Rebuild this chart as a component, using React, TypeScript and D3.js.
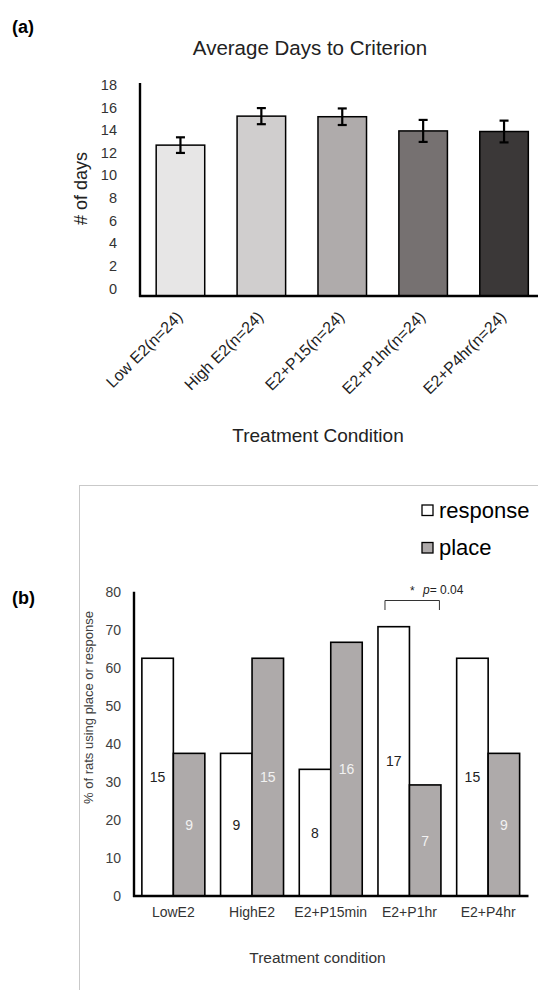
import React from "react";
import * as d3 from "d3";

// ---------- Panel (a) data ----------
const catsA = ["Low E2(n=24)", "High E2(n=24)", "E2+P15(n=24)", "E2+P1hr(n=24)", "E2+P4hr(n=24)"];
const daysMean = [12.75, 15.2, 15.15, 13.95, 13.9];
const daysErr = [0.66, 0.68, 0.7, 0.93, 0.92];
const barColorsA = ["#e7e6e6", "#d0cece", "#afabab", "#767171", "#3b3838"];
const ticksA = [0, 2, 4, 6, 8, 10, 12, 14, 16, 18];

// ---------- Panel (b) data ----------
const catsB = ["LowE2", "HighE2", "E2+P15min", "E2+P1hr", "E2+P4hr"];
const seriesB = ["response", "place"];
const responsePct = [62.5, 37.5, 33.3, 70.8, 62.5];
const placePct = [37.5, 62.5, 66.7, 29.2, 37.5];
const responseN = [15, 9, 8, 17, 15];
const placeN = [9, 15, 16, 7, 9];
const ticksB = [0, 10, 20, 30, 40, 50, 60, 70, 80];

const FONT = "'Liberation Sans', Arial, sans-serif";

export default function App() {
  // Panel (a) scales
  const xA = d3.scaleBand<string>().domain(catsA).range([140, 544.5]).paddingInner(0.4).paddingOuter(0.2);
  const yA = d3.scaleLinear().domain([0, 18]).range([296, 83]);
  const yALabel = d3.scaleLinear().domain([0, 18]).range([288.3, 84.7]);

  // Panel (b) scales
  const xB = d3.scaleBand<string>().domain(catsB).range([134, 527.5]).paddingInner(0.2).paddingOuter(0.1);
  const xSub = d3.scaleBand<string>().domain(seriesB).range([0, xB.bandwidth()]);
  const yB = d3.scaleLinear().domain([0, 80]).range([896, 591.7]);

  const rowsB = catsB.map((c, i) => ({
    cat: c,
    vals: [
      { s: "response", v: responsePct[i], n: responseN[i] },
      { s: "place", v: placePct[i], n: placeN[i] },
    ],
  }));

  const bw = xA.bandwidth();
  const capW = 4.5;
  const p1 = xB("E2+P1hr")!;
  const brL = p1 + xSub("response")! + 7;
  const brR = p1 + xSub("place")! + xSub.bandwidth() - 1.5;

  return (
    <svg
      width={538}
      height={990}
      style={{ position: "absolute", left: 0, top: 0, background: "#fff" }}
      fontFamily={FONT}
    >
      {/* ---------------- Panel (a) ---------------- */}
      <text x={12} y={33} fontSize={18} fontWeight="bold" fill="#000">(a)</text>
      <text x={310} y={55} fontSize={20.5} textAnchor="middle" fill="#222">Average Days to Criterion</text>

      {/* y tick labels */}
      {ticksA.map((t) => (
        <text key={t} x={117} y={yALabel(t)} dy="0.36em" fontSize={14.5} textAnchor="end" fill="#333">
          {t}
        </text>
      ))}
      <text
        transform={`translate(${87},${188.5}) rotate(-90)`}
        fontSize={18}
        textAnchor="middle"
        fill="#222"
      >
        # of days
      </text>

      {/* bars */}
      {catsA.map((c, i) => (
        <rect
          key={c}
          x={xA(c)}
          y={yA(daysMean[i])}
          width={bw}
          height={yA(0) - yA(daysMean[i])}
          fill={barColorsA[i]}
          stroke="#000"
          strokeWidth={1.5}
        />
      ))}
      {/* error bars */}
      {catsA.map((c, i) => {
        const cx = xA(c)! + bw / 2;
        const t = yA(daysMean[i] + daysErr[i]);
        const b = yA(daysMean[i] - daysErr[i]);
        return (
          <g key={c} stroke="#000" strokeWidth={2.2}>
            <line x1={cx} x2={cx} y1={t} y2={b} />
            <line x1={cx - capW} x2={cx + capW} y1={t} y2={t} />
            <line x1={cx - capW} x2={cx + capW} y1={b} y2={b} />
          </g>
        );
      })}
      {/* axes */}
      <line x1={140} x2={140} y1={83} y2={297} stroke="#000" strokeWidth={2.4} />
      <line x1={139} x2={538} y1={296} y2={296} stroke="#000" strokeWidth={2.4} />

      {/* x labels rotated */}
      {catsA.map((c) => {
        const ax = xA(c)! + bw / 2 + 3;
        const ay = 318;
        return (
          <text
            key={c}
            transform={`translate(${ax},${ay}) rotate(-45)`}
            fontSize={16}
            textAnchor="end"
            fill="#222"
          >
            {c}
          </text>
        );
      })}
      <text x={318} y={442} fontSize={19} textAnchor="middle" fill="#222">Treatment Condition</text>

      {/* ---------------- Panel (b) ---------------- */}
      <rect x={79.5} y={485.5} width={600} height={600} fill="none" stroke="#c9c9c9" strokeWidth={1} />
      <text x={12} y={604} fontSize={18} fontWeight="bold" fill="#000">(b)</text>

      {/* legend */}
      <rect x={422} y={505} width={11} height={10.5} fill="#fff" stroke="#000" strokeWidth={1.3} />
      <text x={439} y={517.5} fontSize={22} fill="#000">response</text>
      <rect x={422} y={542.5} width={11} height={10.5} fill="#aeaaaa" stroke="#000" strokeWidth={1.3} />
      <text x={439} y={554.5} fontSize={22} fill="#000">place</text>

      {/* significance bracket */}
      <path
        d={`M${brL},610 V600.5 H${brR} V610`}
        fill="none"
        stroke="#333"
        strokeWidth={1}
      />
      <text x={410} y={595} fontSize={12} fill="#222">*</text>
      <text x={423} y={593.5} fontSize={12} fill="#222">
        <tspan fontStyle="italic">p</tspan>= 0.04
      </text>

      {/* y ticks */}
      {ticksB.map((t) => (
        <text key={t} x={121} y={yB(t)} dy="0.36em" fontSize={14} textAnchor="end" fill="#404040">
          {t}
        </text>
      ))}
      <text
        transform={`translate(${93},${707.5}) rotate(-90)`}
        fontSize={13}
        textAnchor="middle"
        fill="#404040"
      >
        % of rats using place or response
      </text>

      {/* bars */}
      {rowsB.map((r) => (
        <g key={r.cat} transform={`translate(${xB(r.cat)},0)`}>
          {r.vals.map((d) => (
            <g key={d.s}>
              <rect
                x={xSub(d.s)}
                y={yB(d.v)}
                width={xSub.bandwidth()}
                height={yB(0) - yB(d.v)}
                fill={d.s === "response" ? "#fff" : "#aeaaaa"}
                stroke="#000"
                strokeWidth={1.6}
              />
              <text
                x={xSub(d.s)! + xSub.bandwidth() / 2}
                y={(yB(d.v) + yB(0)) / 2}
                dy="0.36em"
                fontSize={14}
                textAnchor="middle"
                fill={d.s === "response" ? "#222" : "#f2f2f2"}
              >
                {d.n}
              </text>
            </g>
          ))}
        </g>
      ))}

      {/* axes */}
      <line x1={134} x2={134} y1={591.7} y2={897} stroke="#000" strokeWidth={2.4} />
      <line x1={133} x2={528.5} y1={896} y2={896} stroke="#000" strokeWidth={2.4} />

      {/* x labels */}
      {catsB.map((c) => (
        <text key={c} x={xB(c)! + xB.bandwidth() / 2} y={917} fontSize={14} textAnchor="middle" fill="#333">
          {c}
        </text>
      ))}
      <text x={317.5} y={963} fontSize={15.5} textAnchor="middle" fill="#333">Treatment  condition</text>
    </svg>
  );
}
